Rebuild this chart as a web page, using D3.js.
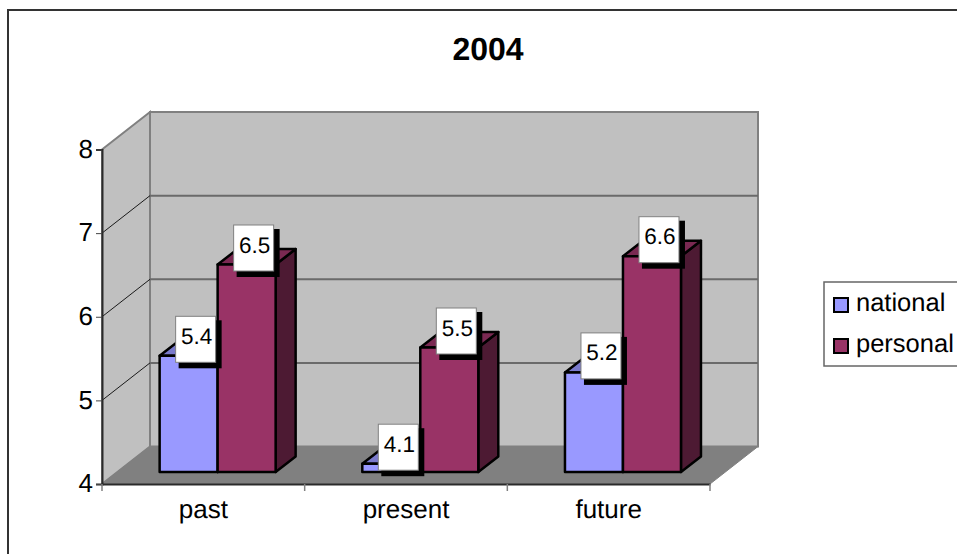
<!DOCTYPE html>
<html>
<head>
<meta charset="utf-8">
<script src="https://cdn.jsdelivr.net/npm/d3@7/dist/d3.min.js"></script>
<style>
  html, body { margin: 0; padding: 0; background: #fff; overflow: hidden; }
  svg { display: block; }
  text { font-family: "Liberation Sans", Arial, sans-serif; fill: #000; text-rendering: geometricPrecision; }
</style>
</head>
<body>
<svg id="chart" width="957" height="554"></svg>
<script>
const chartTitle = "2004";
const categories = ["past", "present", "future"];
const seriesNames = ["national", "personal"];
const national = [5.4, 4.1, 5.2];
const personal = [6.5, 5.5, 6.6];
const yTicks = [4, 5, 6, 7, 8];
const fillFront = ["#9999ff", "#993366"];
const fillTop = ["#7a7acc", "#7a2952"];
const fillSide = ["#5c5c99", "#4d1a33"];

const svg = d3.select("#chart");

// Outer chart frame runs past the right and bottom edges of the page
svg.append("path")
  .attr("d", "M8,560V10H960")
  .attr("fill", "none").attr("stroke", "#333").attr("stroke-width", 2);

svg.append("text").attr("x", 488).attr("y", 60)
  .attr("text-anchor", "middle").attr("font-size", 32).attr("font-weight", "bold")
  .text(chartTitle);

// Front plane of the 3D box, and the offset that leads to its back wall
const x = d3.scaleBand().domain(categories).range([102, 710]);
const y = d3.scaleLinear().domain([4, 8]).range([484, 149.5]);
const depth = { x: 48, y: -37.5 };

// Bars stand on a plane part-way into the box
const barY = d3.scaleLinear().domain([4, 8]).range([472, 140]);
const barWidth = 58, barLead = 43.7;
const barDepth = { x: 20, y: -15.5 };

const [x0, x1] = x.range();
const poly = pts => "M" + pts.map(p => p.join(",")).join("L") + "Z";

// Walls and floor
svg.append("path")
  .attr("d", poly([[x0, y(8)], [x0 + depth.x, y(8) + depth.y], [x0 + depth.x, y(4) + depth.y], [x0, y(4)]]))
  .attr("fill", "#c0c0c0").attr("stroke", "#808080").attr("stroke-width", 2);
svg.append("path")
  .attr("d", poly([[x0 + depth.x, y(8) + depth.y], [x1 + depth.x, y(8) + depth.y], [x1 + depth.x, y(4) + depth.y], [x0 + depth.x, y(4) + depth.y]]))
  .attr("fill", "#c0c0c0").attr("stroke", "#808080").attr("stroke-width", 2);
svg.append("path")
  .attr("d", poly([[x0, y(4)], [x0 + depth.x, y(4) + depth.y], [x1 + depth.x, y(4) + depth.y], [x1, y(4)]]))
  .attr("fill", "#808080").attr("stroke", "#808080").attr("stroke-width", 1);

// Gridlines: thin across the side wall, heavier along the back wall
const inner = yTicks.filter(t => t > 4 && t < 8);
svg.selectAll("line.side").data(inner).join("line").attr("class", "side")
  .attr("x1", x0).attr("y1", d => y(d))
  .attr("x2", x0 + depth.x).attr("y2", d => y(d) + depth.y)
  .attr("stroke", "#1a1a1a").attr("stroke-width", 1);
svg.selectAll("line.back").data(inner).join("line").attr("class", "back")
  .attr("x1", x0 + depth.x).attr("y1", d => y(d) + depth.y)
  .attr("x2", x1 + depth.x).attr("y2", d => y(d) + depth.y)
  .attr("stroke", "#6a6a6a").attr("stroke-width", 2);

// Axes
const yAxis = svg.append("g").attr("transform", `translate(${x0},0)`)
  .call(d3.axisLeft(y).tickValues(yTicks).tickFormat(d3.format("d")).tickSize(6).tickPadding(3));
yAxis.selectAll("text").attr("font-size", 26).attr("font-family", null).attr("dy", "0.3em");
const xAxis = svg.append("g").attr("transform", `translate(0,${y(4)})`)
  .call(d3.axisBottom(x).tickSize(0).tickPadding(16));
xAxis.selectAll("text").attr("font-size", 26).attr("font-family", null);
xAxis.selectAll("line.edge")
  .data(d3.range(categories.length + 1)).join("line").attr("class", "edge")
  .attr("x1", i => x0 + i * x.step()).attr("x2", i => x0 + i * x.step())
  .attr("y1", 0).attr("y2", 7).attr("stroke", "#808080").attr("stroke-width", 1.5);
svg.selectAll(".domain").attr("stroke", "#2a2a2a").attr("stroke-width", 2);
yAxis.selectAll("line").attr("stroke", "#444");

// Bars, one box per value with front, top and side faces
const rows = categories.flatMap((c, i) => [
  { c, s: 0, v: national[i] },
  { c, s: 1, v: personal[i] }
]);
const barLeft = d => x(d.c) + x.bandwidth() / 2 - barLead + d.s * barWidth;

const bars = svg.selectAll("g.bar").data(rows).join("g").attr("class", "bar")
  .attr("stroke", "#000").attr("stroke-width", 2.5).attr("stroke-linejoin", "round");
bars.append("path").attr("fill", d => fillSide[d.s]).attr("d", d => {
  const r = barLeft(d) + barWidth, t = barY(d.v), b = barY(4);
  return poly([[r, t], [r + barDepth.x, t + barDepth.y], [r + barDepth.x, b + barDepth.y], [r, b]]);
});
bars.append("path").attr("fill", d => fillTop[d.s]).attr("d", d => {
  const l = barLeft(d), t = barY(d.v);
  return poly([[l, t], [l + barDepth.x, t + barDepth.y], [l + barWidth + barDepth.x, t + barDepth.y], [l + barWidth, t]]);
});
bars.append("rect").attr("fill", d => fillFront[d.s])
  .attr("x", barLeft).attr("y", d => barY(d.v))
  .attr("width", barWidth).attr("height", d => barY(4) - barY(d.v));

// Value labels: white box with a hard black drop shadow
const labels = svg.selectAll("g.value").data(rows).join("g").attr("class", "value")
  .attr("transform", d => `translate(${barLeft(d) + 16},${barY(d.v) - 39.5})`);
labels.append("rect").attr("x", 3).attr("y", 4).attr("width", 43).attr("height", 48).attr("fill", "#000");
labels.append("rect").attr("width", 40).attr("height", 46)
  .attr("fill", "#fff").attr("stroke", "#808080").attr("stroke-width", 1);
labels.append("text").attr("x", 21).attr("y", 27.5)
  .attr("text-anchor", "middle").attr("font-size", 22.5)
  .text(d => d3.format(".1f")(d.v));

// Legend, clipped by the page edge on its right side
const legend = svg.append("g");
legend.append("rect").attr("x", 824).attr("y", 282).attr("width", 160).attr("height", 84)
  .attr("fill", "#fff").attr("stroke", "#666").attr("stroke-width", 1.5);
const legendItems = legend.selectAll("g").data(seriesNames).join("g")
  .attr("transform", (d, i) => `translate(0,${298 + i * 41})`);
legendItems.append("rect").attr("x", 834).attr("width", 14).attr("height", 14)
  .attr("fill", (d, i) => fillFront[i]).attr("stroke", "#000").attr("stroke-width", 2);
legendItems.append("text").attr("x", 856).attr("y", 13).attr("font-size", 25.5).text(d => d);
</script>
</body>
</html>
